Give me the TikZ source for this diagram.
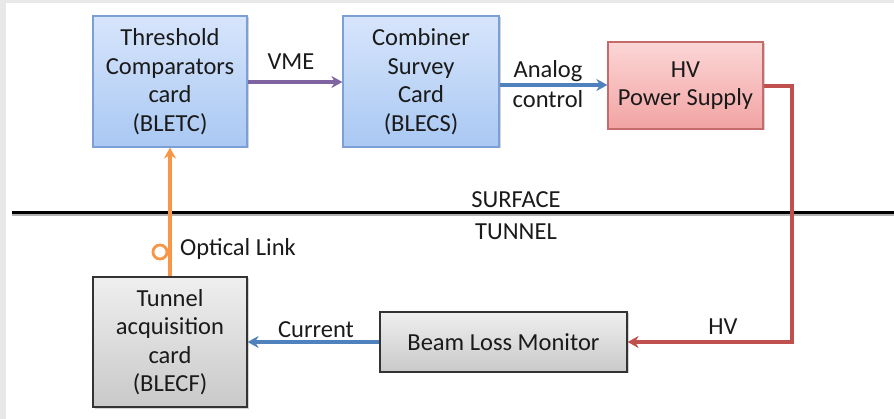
\documentclass[tikz,border=0pt]{standalone}
\usepackage{fontspec}
\setmainfont{Carlito}
\usetikzlibrary{arrows.meta,shadows,positioning}
\definecolor{boxblueA}{HTML}{D7E5FB}
\definecolor{boxblueB}{HTML}{A9C8F3}
\definecolor{boxblueE}{HTML}{7C9FD6}
\definecolor{boxredA}{HTML}{FCD6D6}
\definecolor{boxredB}{HTML}{F2A3A3}
\definecolor{boxredE}{HTML}{C66B6B}
\definecolor{boxgrayA}{HTML}{EFEFEF}
\definecolor{boxgrayB}{HTML}{C9C9C9}
\definecolor{linkpurple}{HTML}{8064A2}
\definecolor{linkblue}{HTML}{4F81BD}
\definecolor{linkred}{HTML}{C0504D}
\definecolor{linkorange}{HTML}{F79646}
\definecolor{ink}{HTML}{1A1A1A}
\tikzset{
  card/.style={rectangle, align=center, inner sep=0pt, text=ink,
    font=\fontsize{24.5}{28.5}\selectfont,
    drop shadow={shadow xshift=1.5pt, shadow yshift=-1.5pt, opacity=0.35}},
  bluecard/.style={card, draw=boxblueE, line width=1.2pt, top color=boxblueA, bottom color=boxblueB, text=ink},
  redcard/.style={card, draw=boxredE, line width=1.2pt, top color=boxredA, bottom color=boxredB, text=ink},
  graycard/.style={card, draw=black!80, line width=1.2pt, top color=boxgrayA, bottom color=boxgrayB, text=ink},
  link/.style={line width=3.4pt, -{Stealth[length=11pt,width=12pt,inset=3.5pt]}},
  lbl/.style={font=\fontsize{24.5}{28}\selectfont, inner sep=0pt, align=center, text=ink},
}
\begin{document}
\begin{tikzpicture}[x=1pt,y=-1pt]
\useasboundingbox (0,0) rectangle (894,419);
% window frame strips
\fill[black!9] (0,0) rectangle (6,419);
\fill[black!9] (0,0) rectangle (894,3);

% blocks
\node[bluecard, minimum width=154pt, minimum height=131pt] (bletc) at (170,81.5)
  {Threshold\\Comparators\\card\\(BLETC)};
\node[bluecard, minimum width=156pt, minimum height=131pt] (blecs) at (421,81.5)
  {Combiner\\Survey\\Card\\(BLECS)};
\node[redcard, minimum width=155pt, minimum height=87pt] (hv) at (685.5,85.5)
  {HV\\Power Supply};
\node[graycard, minimum width=247pt, minimum height=60pt] (blm) at (503.5,342)
  {Beam Loss Monitor};
\node[graycard, minimum width=154pt, minimum height=130pt] (blecf) at (170,342)
  {Tunnel\\acquisition\\card\\(BLECF)};

% surface / tunnel boundary
\coordinate (gl) at (12,213);
\coordinate (gr) at (894,213);
\draw[black!30, line width=3pt] ([yshift=-2pt]gl) -- ([yshift=-2pt]gr);
\draw[black, line width=3pt] (gl) -- (gr);
\node[lbl] (surf) at (516,200) {SURFACE};
\node[lbl] (tun) at (516,232) {TUNNEL};

% connectors
\draw[link, linkpurple] (bletc.east |- 0,82) -- (blecs.west |- 0,82);
\node[lbl] (vme) at (291,62) {VME};

\draw[link, linkblue] (blecs.east |- 0,85) -- (hv.west |- 0,85);
\node[lbl] (ana) at (548,71) {Analog};
\node[lbl] (ctl) at (548,99) {control};

\coordinate (hvA) at (792,86);
\coordinate (hvB) at (792,342);
\draw[link, linkred] (hv.east |- hvA) -- (hvA) -- (hvB) -- (blm.east);
\node[lbl] (hvl) at (723,327) {HV};

\draw[link, linkblue] (blm.west) -- (blecf.east);
\node[lbl] (cur) at (316,330) {Current};

\draw[link, linkorange] (blecf.north) -- (bletc.south);
\coordinate (loop) at (160,252);
\draw[linkorange, line width=2.8pt] (loop) circle (7pt);
\node[lbl, anchor=west] (opt) at (180,249) {Optical Link};
\end{tikzpicture}
\end{document}
